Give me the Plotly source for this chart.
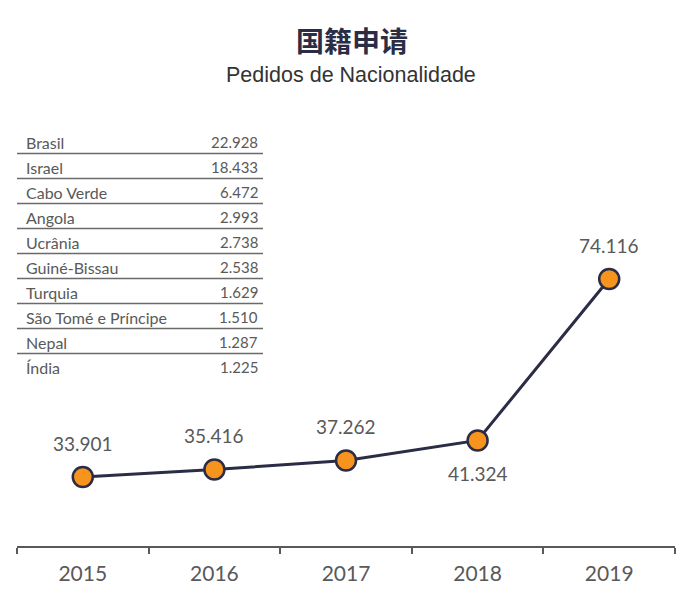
import plotly.graph_objects as go

# ---- data ----
years = ["2015", "2016", "2017", "2018", "2019"]
requests = [33.901, 35.416, 37.262, 41.324, 74.116]
label_pos = ["above", "above", "above", "below", "above"]

countries = ["Brasil", "Israel", "Cabo Verde", "Angola", "Ucrânia",
             "Guiné-Bissau", "Turquia", "São Tomé e Príncipe", "Nepal", "Índia"]
country_values = ["22.928", "18.433", "6.472", "2.993", "2.738",
                  "2.538", "1.629", "1.510", "1.287", "1.225"]

title_text = "国籍申请"
subtitle_text = "Pedidos de Nacionalidade"

# ---- layout geometry (screen pixels; page body adds an 8px offset) ----
OFF = 8
W, H = 695, 596
PL, PR, PT, PB = 17, 675, 100, 546          # plot area on screen
L, T = PL - OFF, PT - OFF
R = W - (PR - OFF)
B = H - (PB - OFF)
PW = PR - PL
PH = PB - PT


def px_x(px):
    return (px - PL) / PW


def px_y(py):
    return (PB - py) / PH


GRAY = "#595959"
NAVY = "#2b2c45"
ORANGE = "#F7941D"

fig = go.Figure()
fig.add_trace(go.Scatter(
    x=years, y=requests, mode="lines+markers",
    line=dict(color=NAVY, width=3),
    marker=dict(size=20, color=ORANGE, line=dict(color=NAVY, width=2.5)),
    hoverinfo="x+y", showlegend=False,
))

annotations = []
for i, (v, pos) in enumerate(zip(requests, label_pos)):
    annotations.append(dict(
        x=i, y=v, xref="x", yref="y", showarrow=False,
        text=f"{v:.3f}", yshift=34 if pos == "above" else -33,
        font=dict(family="Lato", size=19, color=GRAY),
    ))

# table
row0, row_h = 142, 25
for i, (c, v) in enumerate(zip(countries, country_values)):
    yc = row0 + i * row_h
    annotations.append(dict(
        x=px_x(24), y=px_y(yc), xref="paper", yref="paper", showarrow=False,
        text=c, xanchor="left", yanchor="middle",
        font=dict(family="Lato", size=16, color=GRAY),
    ))
    annotations.append(dict(
        x=px_x(260), y=px_y(yc), xref="paper", yref="paper", showarrow=False,
        text=v, xanchor="right", yanchor="middle",
        font=dict(family="Lato", size=15, color=GRAY),
    ))

shapes = []
for i in range(len(countries) - 1):
    yl = row0 + i * row_h + 11.5
    shapes.append(dict(
        type="line", xref="paper", yref="paper",
        x0=px_x(17), x1=px_x(263), y0=px_y(yl), y1=px_y(yl),
        line=dict(color="#6a6a6a", width=1.3),
    ))

annotations.append(dict(
    x=px_x(352), y=px_y(40), xref="paper", yref="paper", showarrow=False,
    text=f"<b>{title_text}</b>", yanchor="middle",
    font=dict(family="Noto Sans CJK SC", size=28, color="#2a2d45"),
))
annotations.append(dict(
    x=px_x(351), y=px_y(75), xref="paper", yref="paper", showarrow=False,
    text=subtitle_text, yanchor="middle",
    font=dict(family="Liberation Sans", size=21.5, color="#333333"),
))

# y range chosen so the series sits where it does in the reference
y_px_per_unit = 4.923
y_lo = requests[0] - (PB - 477) / y_px_per_unit
y_hi = y_lo + PH / y_px_per_unit

fig.update_layout(
    width=W, height=H,
    margin=dict(l=L, r=R, t=T, b=B),
    paper_bgcolor="white", plot_bgcolor="white",
    annotations=annotations, shapes=shapes,
    xaxis=dict(
        type="category", range=[-0.5, 4.5],
        showline=True, linecolor=GRAY, linewidth=1.5,
        ticks="outside", tickson="boundaries", ticklen=6,
        tickcolor=GRAY, tickwidth=1.5,
        showgrid=False, zeroline=False,
        tickfont=dict(family="Lato", size=21, color=GRAY),
        ticklabelstandoff=8,
    ),
    yaxis=dict(visible=False, range=[y_lo, y_hi]),
)

fig.write_html("out.html")
